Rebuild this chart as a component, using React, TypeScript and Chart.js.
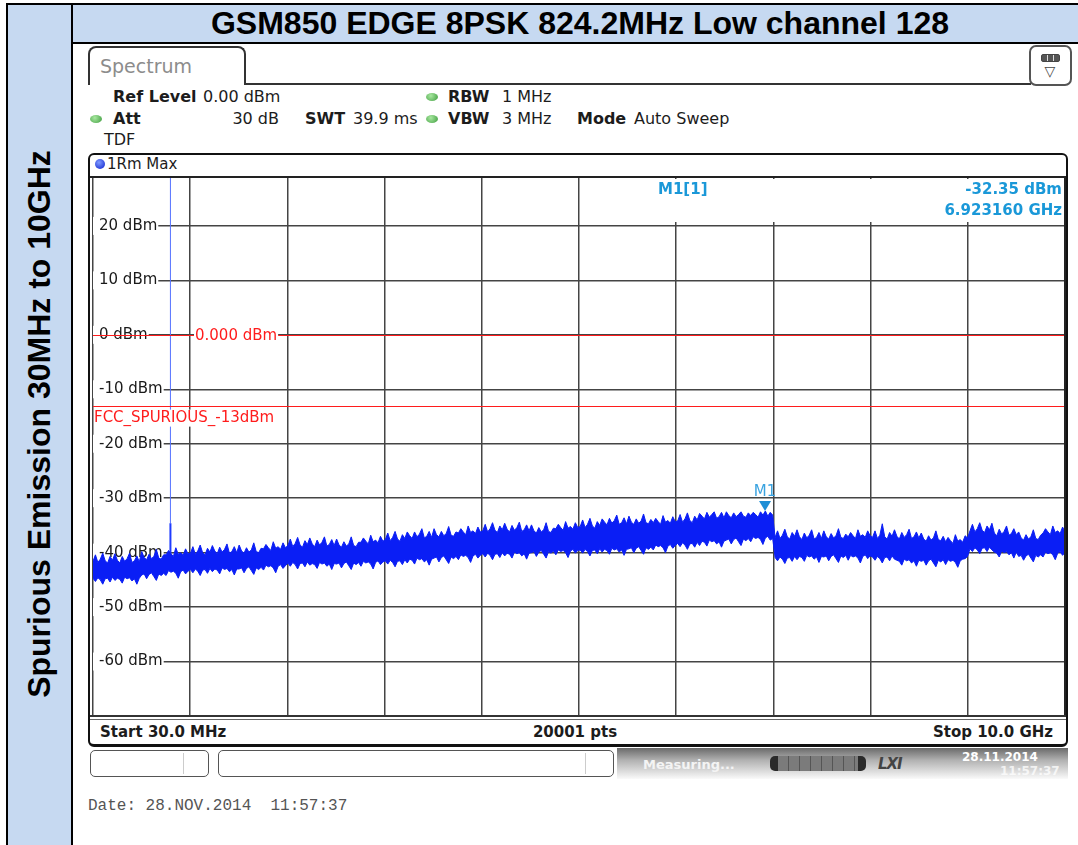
import React, { useEffect, useRef } from 'react';
import { Chart, registerables } from 'chart.js';

Chart.register(...registerables);

// ---------------- data ----------------
const startFreqMHz = 30;
const stopFreqMHz = 10000;
const levelTop = 28.8;
const levelBottom = -70;
const yTickLevels = [20, 10, 0, -10, -20, -30, -40, -50, -60];
const xGridFreqs = [30, 1027, 2024, 3021, 4018, 5015, 6012, 7009, 8006, 9003, 10000];

// max-hold trace, upper edge of the noise band (dBm), 400 sweep bins
const traceUpper = [
  -41.6, -40.4, -41.8, -41.2, -40.1, -41.5, -41.9, -40.7, -41.4, -40.2,
  -41.4, -41.9, -40.7, -41.6, -41.1, -40.1, -41.8, -41.5, -40.6, -41.7,
  -39.8, -40.9, -41.3, -40.3, -41.1, -40.7, -39.4, -41.0, -41.2, -40.4,
  -40.4, -39.6, -40.2, -40.7, -39.1, -40.3, -40.0, -40.5, -39.3, -40.2,
  -40.1, -38.9, -40.3, -39.7, -38.6, -40.0, -40.4, -39.2, -39.9, -38.7,
  -39.7, -40.2, -39.0, -39.9, -39.4, -38.4, -40.1, -39.8, -38.9, -40.0,
  -38.6, -39.7, -40.1, -39.1, -39.9, -39.5, -38.2, -39.8, -40.0, -39.2,
  -39.3, -38.5, -39.1, -39.6, -38.0, -39.2, -38.9, -39.4, -38.2, -39.1,
  -38.7, -37.5, -38.9, -38.3, -37.2, -38.6, -39.0, -37.8, -38.5, -37.3,
  -38.4, -38.9, -37.7, -38.6, -38.1, -37.1, -38.8, -38.5, -37.6, -38.7,
  -37.5, -38.6, -39.0, -38.0, -38.8, -38.4, -37.1, -38.7, -38.9, -38.1,
  -38.1, -37.3, -37.9, -38.4, -36.8, -38.0, -37.7, -38.2, -37.0, -37.9,
  -37.6, -36.4, -37.8, -37.2, -36.1, -37.5, -37.9, -36.7, -37.4, -36.2,
  -36.9, -37.4, -36.2, -37.1, -36.6, -35.6, -37.3, -37.0, -36.1, -37.2,
  -35.6, -36.7, -37.1, -36.1, -36.9, -36.5, -35.2, -36.8, -37.0, -36.2,
  -36.4, -35.6, -36.2, -36.7, -35.1, -36.3, -36.0, -36.5, -35.3, -36.2,
  -36.0, -34.8, -36.2, -35.6, -34.5, -35.9, -36.3, -35.1, -35.8, -34.6,
  -35.7, -36.2, -35.0, -35.9, -35.4, -34.4, -36.1, -35.8, -34.9, -36.0,
  -34.9, -36.0, -36.4, -35.4, -36.2, -35.8, -34.5, -36.1, -36.3, -35.5,
  -35.6, -34.8, -35.4, -35.9, -34.3, -35.5, -35.2, -35.7, -34.5, -35.4,
  -35.2, -34.0, -35.4, -34.8, -33.7, -35.1, -35.5, -34.3, -35.0, -33.8,
  -34.4, -34.9, -33.7, -34.6, -34.1, -33.1, -34.8, -34.5, -33.6, -34.7,
  -33.3, -34.4, -34.8, -33.8, -34.6, -34.2, -32.9, -34.5, -34.7, -33.9,
  -34.5, -33.7, -34.3, -34.8, -33.2, -34.4, -34.1, -34.6, -33.4, -34.3,
  -34.2, -33.0, -34.4, -33.8, -32.7, -34.1, -34.5, -33.3, -34.0, -32.8,
  -33.3, -33.8, -32.6, -33.5, -33.0, -32.5, -33.7, -33.4, -32.6, -33.6,
  -32.5, -33.2, -33.6, -32.7, -33.4, -33.0, -32.5, -33.3, -33.5, -32.7,
  -33.2, -32.6, -33.0, -33.5, -32.5, -33.1, -32.35, -33.3, -32.6, -33.1,
  -37.2, -36.0, -37.4, -36.8, -35.7, -37.1, -37.5, -36.3, -37.0, -35.8,
  -37.1, -37.6, -36.4, -37.3, -36.8, -35.8, -37.5, -37.2, -36.3, -37.4,
  -36.0, -37.1, -37.5, -36.5, -37.3, -36.9, -35.6, -37.2, -37.4, -36.6,
  -37.1, -36.3, -36.9, -37.4, -35.8, -37.0, -36.7, -37.2, -36.0, -36.9,
  -37.2, -36.0, -37.4, -36.8, -34.7, -37.1, -37.5, -36.3, -37.0, -35.8,
  -37.0, -37.5, -36.3, -37.2, -36.7, -35.7, -37.4, -37.1, -36.2, -37.3,
  -36.4, -37.5, -37.9, -36.9, -37.7, -37.3, -36.0, -37.6, -37.8, -37.0,
  -38.0, -37.2, -37.8, -38.3, -36.7, -37.9, -37.6, -38.1, -36.9, -37.3,
  -36.0, -34.8, -36.2, -35.6, -34.5, -35.9, -36.3, -35.1, -35.8, -34.6,
  -36.4, -36.9, -35.7, -36.6, -36.1, -35.1, -36.8, -36.5, -35.6, -36.7,
  -36.2, -37.3, -37.7, -36.7, -37.5, -37.1, -35.8, -37.4, -37.6, -36.8,
  -36.4, -35.6, -36.2, -36.7, -35.1, -36.3, -36.0, -36.5, -35.3, -36.2,
];

// lower edge of the noise band (dBm), 400 sweep bins
const traceLower = [
  -44.7, -45.3, -44.6, -45.0, -45.8, -44.8, -44.7, -45.4, -44.5, -45.1,
  -44.7, -44.9, -45.6, -44.5, -44.8, -44.6, -45.2, -44.8, -45.8, -44.7,
  -44.1, -43.9, -44.8, -44.0, -43.7, -44.4, -45.1, -43.9, -44.2, -43.8,
  -44.2, -43.3, -43.6, -43.4, -43.8, -44.7, -43.5, -43.2, -43.9, -43.4,
  -43.1, -43.7, -43.0, -43.4, -44.2, -43.2, -43.1, -43.8, -42.9, -43.5,
  -43.0, -43.2, -43.9, -42.8, -43.1, -42.9, -43.5, -43.1, -44.1, -43.0,
  -43.0, -42.8, -43.7, -42.9, -42.6, -43.3, -44.0, -42.8, -43.1, -42.7,
  -43.2, -42.3, -42.6, -42.4, -42.8, -43.7, -42.5, -42.2, -42.9, -42.4,
  -41.9, -42.5, -41.8, -42.2, -43.0, -42.0, -41.9, -42.6, -41.7, -42.3,
  -42.0, -42.2, -42.9, -41.8, -42.1, -41.9, -42.5, -42.1, -43.1, -42.0,
  -42.1, -41.9, -42.8, -42.0, -41.7, -42.4, -43.1, -41.9, -42.2, -41.8,
  -42.5, -41.6, -41.9, -41.7, -42.1, -43.0, -41.8, -41.5, -42.2, -41.7,
  -41.5, -42.1, -41.4, -41.8, -42.6, -41.6, -41.5, -42.2, -41.3, -41.9,
  -41.2, -41.4, -42.1, -41.0, -41.3, -41.1, -41.7, -41.3, -42.3, -41.2,
  -41.0, -40.8, -41.7, -40.9, -40.6, -41.3, -42.0, -40.8, -41.1, -40.7,
  -41.3, -40.4, -40.7, -40.5, -40.9, -41.8, -40.6, -40.3, -41.0, -40.5,
  -40.2, -40.8, -40.1, -40.5, -41.3, -40.3, -40.2, -40.9, -40.0, -40.6,
  -40.1, -40.3, -41.0, -39.9, -40.2, -40.0, -40.6, -40.2, -41.2, -40.1,
  -40.0, -39.8, -40.7, -39.9, -39.6, -40.3, -41.0, -39.8, -40.1, -39.7,
  -40.4, -39.5, -39.8, -39.6, -40.0, -40.9, -39.7, -39.4, -40.1, -39.6,
  -39.5, -40.1, -39.4, -39.8, -40.6, -39.6, -39.5, -40.2, -39.3, -39.9,
  -39.4, -39.6, -40.3, -39.2, -39.5, -39.3, -39.9, -39.5, -40.5, -39.4,
  -39.3, -39.1, -40.0, -39.2, -38.9, -39.6, -40.3, -39.1, -39.4, -39.0,
  -39.5, -38.6, -38.9, -38.7, -39.1, -40.0, -38.8, -38.5, -39.2, -38.7,
  -38.3, -38.9, -38.2, -38.6, -39.4, -38.4, -38.3, -39.0, -38.1, -38.7,
  -37.9, -38.1, -38.8, -37.7, -38.0, -37.8, -38.4, -38.0, -39.0, -37.9,
  -37.7, -37.5, -38.4, -37.6, -37.3, -38.0, -38.7, -37.5, -37.8, -37.4,
  -38.0, -37.1, -37.4, -37.2, -37.6, -38.5, -37.3, -37.0, -37.7, -37.4,
  -40.9, -41.5, -40.8, -41.2, -42.0, -41.0, -40.9, -41.6, -40.7, -41.3,
  -40.7, -40.9, -41.6, -40.5, -40.8, -40.6, -41.2, -40.8, -41.8, -40.7,
  -40.8, -40.6, -41.5, -40.7, -40.4, -41.1, -41.8, -40.6, -40.9, -40.5,
  -41.4, -40.5, -40.8, -40.6, -41.0, -41.9, -40.7, -40.4, -41.1, -40.6,
  -40.8, -41.4, -40.7, -41.1, -41.9, -40.9, -40.8, -41.5, -40.6, -41.2,
  -41.4, -41.6, -42.3, -41.2, -41.5, -41.3, -41.9, -41.5, -42.5, -41.4,
  -41.6, -41.4, -42.3, -41.5, -41.2, -41.9, -42.6, -41.4, -41.7, -41.3,
  -42.2, -41.3, -41.6, -41.4, -41.8, -42.7, -41.5, -41.2, -41.1, -40.7,
  -39.3, -39.8, -39.1, -39.5, -40.2, -39.2, -39.1, -39.8, -39.0, -39.5,
  -39.9, -40.1, -40.8, -39.7, -40.0, -39.8, -40.4, -40.0, -41.0, -39.9,
  -40.7, -40.5, -41.4, -40.6, -40.3, -41.0, -41.7, -40.5, -40.8, -40.4,
  -40.8, -39.9, -40.2, -40.0, -40.4, -41.3, -40.1, -39.8, -40.5, -40.0,
];

const carrierFreqMHz = 824.2;
const carrierLevels = [-41.0, -34.6, 40];
const displayLineLevel = 0;
const limitLineLevel = -13;
const limitLineName = 'FCC_SPURIOUS_-13dBm';
const markerFreqMHz = 6923.16;
const markerLevel = -32.35;

// ---------------- styling ----------------
const TRACE = '#0a1ef5';
const GRID = '#444444';
const RED = '#ff1c1c';
const MARK = '#1a98d8';
const UI_FONT = '"DejaVu Sans", Verdana, sans-serif';
const AREA = { left: 93, top: 178, width: 972, height: 538 };

const sweepFreq = (i: number, n: number) =>
  startFreqMHz + (i * (stopFreqMHz - startFreqMHz)) / (n - 1);

const overlayPlugin = {
  id: 'rsOverlay',
  afterDatasetsDraw(chart: any) {
    const { ctx, chartArea: a, scales } = chart;
    const x = scales.x;
    const y = scales.y;
    ctx.save();
    ctx.strokeStyle = RED;
    ctx.lineWidth = 1.2;
    [displayLineLevel, limitLineLevel].forEach((v) => {
      const py = Math.round(y.getPixelForValue(v)) + 0.5;
      ctx.beginPath();
      ctx.moveTo(a.left, py);
      ctx.lineTo(a.right, py);
      ctx.stroke();
    });
    ctx.font = `15px ${UI_FONT}`;
    ctx.textBaseline = 'middle';
    ctx.textAlign = 'left';
    const dl = `${displayLineLevel.toFixed(3)} dBm`;
    const dlx = a.left + 102;
    const dly = y.getPixelForValue(displayLineLevel);
    const dw = ctx.measureText(dl).width;
    ctx.fillStyle = '#fff';
    ctx.fillRect(dlx - 1, dly - 8, dw + 2, 16);
    ctx.fillStyle = RED;
    ctx.fillText(dl, dlx, dly + 1);
    const fly = y.getPixelForValue(limitLineLevel) + 12;
    const fw = ctx.measureText(limitLineName).width;
    ctx.fillStyle = '#fff';
    ctx.fillRect(a.left + 1, fly - 8, fw + 1, 17);
    ctx.fillStyle = RED;
    ctx.fillText(limitLineName, a.left + 1, fly);
    const mx = x.getPixelForValue(markerFreqMHz);
    const my = y.getPixelForValue(markerLevel);
    ctx.fillStyle = '#1f8fd6';
    ctx.beginPath();
    ctx.moveTo(mx - 6, my - 10);
    ctx.lineTo(mx + 6, my - 10);
    ctx.lineTo(mx, my);
    ctx.closePath();
    ctx.fill();
    ctx.fillStyle = '#3aa3e0';
    ctx.textAlign = 'center';
    ctx.fillText('M1', mx, my - 19);
    const bx = a.left + 507;
    ctx.fillStyle = '#fff';
    ctx.fillRect(bx, a.top + 1, a.right - bx - 1, 43);
    ctx.fillStyle = MARK;
    ctx.font = `bold 15px ${UI_FONT}`;
    ctx.textAlign = 'left';
    ctx.fillText('M1[1]', a.left + 565, a.top + 12);
    ctx.textAlign = 'right';
    ctx.fillText(`${markerLevel.toFixed(2)} dBm`, a.right - 3, a.top + 12);
    ctx.fillText(`${(markerFreqMHz / 1000).toFixed(6)} GHz`, a.right - 3, a.top + 33);
    ctx.restore();
  },
};

function SpectrumChart() {
  const ref = useRef<HTMLCanvasElement>(null);
  useEffect(() => {
    const canvas = ref.current as HTMLCanvasElement;
    const n = traceUpper.length;
    const up = traceUpper.map((v, i) => ({ x: sweepFreq(i, n), y: v }));
    const lo = traceLower.map((v, i) => ({ x: sweepFreq(i, n), y: v }));
    const chart = new Chart(canvas, {
      type: 'line',
      data: {
        datasets: [
          { data: up, borderColor: TRACE, backgroundColor: TRACE, borderWidth: 1, pointRadius: 0, fill: '+1' },
          { data: lo, borderColor: TRACE, borderWidth: 1, pointRadius: 0, fill: false },
          {
            data: [{ x: carrierFreqMHz, y: carrierLevels[0] }, { x: carrierFreqMHz, y: carrierLevels[1] }],
            borderColor: '#1f3cff', borderWidth: 2, pointRadius: 0, fill: false,
          },
          {
            data: [{ x: carrierFreqMHz, y: carrierLevels[1] }, { x: carrierFreqMHz, y: carrierLevels[2] }],
            borderColor: '#5572ff', borderWidth: 1, pointRadius: 0, fill: false,
          },
        ],
      },
      options: {
        responsive: false,
        animation: false,
        events: [],
        layout: { padding: 0, autoPadding: false },
        plugins: { legend: { display: false }, tooltip: { enabled: false } },
        scales: {
          x: {
            type: 'linear',
            min: startFreqMHz,
            max: stopFreqMHz,
            afterBuildTicks: (s: any) => { s.ticks = xGridFreqs.map((v) => ({ value: v })); },
            afterFit: (s: any) => { s.paddingLeft = 0; s.paddingRight = 0; s.height = 0; },
            ticks: { display: false },
            grid: { color: GRID, lineWidth: 1.5, drawTicks: false },
            border: { display: false },
          },
          y: {
            type: 'linear',
            min: levelBottom,
            max: levelTop,
            afterBuildTicks: (s: any) => { s.ticks = yTickLevels.map((v) => ({ value: v })); },
            afterFit: (s: any) => { s.paddingTop = 0; s.paddingBottom = 0; },
            ticks: {
              mirror: true,
              padding: 6,
              autoSkip: false,
              color: '#1a1a1a',
              font: { family: 'DejaVu Sans', size: 15 },
              callback: (v: any) => `${v} dBm`,
              showLabelBackdrop: true,
              backdropColor: '#ffffff',
              backdropPadding: { top: 0, bottom: 0, left: 6, right: 1 },
            },
            grid: { color: GRID, lineWidth: 1.5, drawTicks: false },
            border: { display: false },
          },
        },
      } as any,
      plugins: [overlayPlugin],
    });
    // fit the canvas so that the plotting area lands on the instrument's diagram
    const a = chart.chartArea;
    const W = canvas.width + (AREA.width - (a.right - a.left));
    const H = canvas.height + (AREA.height - (a.bottom - a.top));
    if (W !== canvas.width || H !== canvas.height) chart.resize(W, H);
    const b = chart.chartArea;
    canvas.style.left = `${AREA.left - b.left}px`;
    canvas.style.top = `${AREA.top - b.top}px`;
    return () => chart.destroy();
  }, []);
  return (
    <canvas ref={ref} width={984} height={538} style={{ position: 'absolute', left: 81, top: 178 }} />
  );
}

type TP = {
  x: number; y: number; children: React.ReactNode; size?: number; bold?: boolean;
  color?: string; align?: 'left' | 'center' | 'right'; family?: string; style?: React.CSSProperties;
};
const T = ({ x, y, children, size = 16, bold = false, color = '#1c1c1c', align = 'left', family = UI_FONT, style = {} }: TP) => {
  const tx = align === 'left' ? '0' : align === 'center' ? '-50%' : '-100%';
  return (
    <div
      style={{
        position: 'absolute', left: x, top: y, transform: `translate(${tx}, -50%)`, fontSize: size,
        fontWeight: bold ? 700 : 400, color, fontFamily: family, whiteSpace: 'nowrap', lineHeight: 1, ...style,
      }}
    >
      {children}
    </div>
  );
};

const Box = ({ l, t, w, h, s }: { l: number; t: number; w: number; h: number; s?: React.CSSProperties }) => (
  <div style={{ position: 'absolute', left: l, top: t, width: w, height: h, boxSizing: 'border-box', ...s }} />
);

const GreenDot = ({ x, y }: { x: number; y: number }) => (
  <Box l={x - 6} t={y - 4} w={12} h={8} s={{ borderRadius: '50%', background: 'radial-gradient(circle at 40% 35%, #a8e8a0, #3d9b3d)' }} />
);

export default function App() {
  const BLUE_BG = '#c6d9f1';
  return (
    <div style={{ position: 'absolute', left: 0, top: 0, width: 1078, height: 845, background: '#fff', overflow: 'hidden', fontFamily: UI_FONT }}>
      {/* outer table */}
      <Box l={6} t={3} w={67} h={842} s={{ background: BLUE_BG, borderLeft: '2px solid #000', borderRight: '2px solid #000', borderTop: '2px solid #000' }} />
      <Box l={71} t={3} w={1007} h={41} s={{ background: BLUE_BG, borderTop: '2px solid #000', borderBottom: '2px solid #000', borderLeft: '2px solid #000' }} />
      <div
        style={{
          position: 'absolute', left: 580, top: 23, transform: 'translate(-50%, -50%)', fontFamily: '"Liberation Sans", Arial, sans-serif',
          fontWeight: 700, fontSize: 32, whiteSpace: 'nowrap', lineHeight: 1, color: '#000',
        }}
      >
        GSM850 EDGE 8PSK 824.2MHz Low channel 128
      </div>
      <div
        style={{
          position: 'absolute', left: 39, top: 424, transform: 'translate(-50%, -50%) rotate(-90deg)', fontFamily: '"Liberation Sans", Arial, sans-serif',
          fontWeight: 700, fontSize: 32, whiteSpace: 'nowrap', lineHeight: 1, color: '#000',
        }}
      >
        Spurious Emission 30MHz to 10GHz
      </div>

      {/* spectrum tab & header */}
      <Box l={88} t={46} w={158} h={39} s={{ border: '2px solid #333', borderBottom: 'none', borderRadius: '8px 8px 0 0' }} />
      <T x={100} y={66} size={19} color="#8c8c8c">Spectrum</T>
      <Box l={245} t={83} w={786} h={2} s={{ background: '#333' }} />
      <Box l={1029} t={45} w={43} h={41} s={{ border: '2px solid #555', borderRadius: 7, background: '#fff' }} />
      <Box l={1041} t={54} w={19} h={8} s={{ background: 'repeating-linear-gradient(to right, #555 0 5px, #ddd 5px 6px)', border: '1px solid #444', borderRadius: 2 }} />
      <T x={1050} y={71} size={14} color="#444" align="center">▽</T>

      <T x={113} y={97} bold>Ref Level</T>
      <T x={203} y={97}>0.00 dBm</T>
      <GreenDot x={432} y={97} />
      <T x={448} y={97} bold>RBW</T>
      <T x={502} y={97}>1 MHz</T>

      <GreenDot x={96} y={119} />
      <T x={113} y={119} bold>Att</T>
      <T x={279} y={119} align="right">30 dB</T>
      <T x={305} y={119} bold>SWT</T>
      <T x={353} y={119}>39.9 ms</T>
      <GreenDot x={432} y={119} />
      <T x={448} y={119} bold>VBW</T>
      <T x={502} y={119}>3 MHz</T>
      <T x={577} y={119} bold>Mode</T>
      <T x={634} y={119}>Auto Sweep</T>
      <T x={104} y={140}>TDF</T>

      {/* plot box */}
      <Box l={88} t={153} w={980} h={594} s={{ border: '2px solid #111', borderBottom: '3px solid #111', borderRadius: 6 }} />
      <Box l={95} t={159} w={10} h={10} s={{ borderRadius: '50%', background: 'radial-gradient(circle at 40% 35%, #7f9bff, #0a1ccc)' }} />
      <T x={107} y={164} size={15}>1Rm Max</T>

      <SpectrumChart />

      <Box l={90} t={176} w={976} h={2} s={{ background: '#222' }} />
      <Box l={1064} t={177} w={2} h={540} s={{ background: '#222' }} />
      <Box l={90} t={715} w={976} h={2} s={{ background: '#333' }} />
      <Box l={90} t={719} w={976} h={1} s={{ background: '#666' }} />
      <T x={100} y={732} size={15} bold>Start 30.0 MHz</T>
      <T x={575} y={732} size={15} bold align="center">20001 pts</T>
      <T x={1053} y={732} size={15} bold align="right">Stop 10.0 GHz</T>

      {/* status bar */}
      <Box l={617} t={748} w={451} h={31} s={{ background: 'linear-gradient(to bottom, #6a6a6a 0%, #b2b2b2 40%, #fafafa 100%)' }} />
      <Box l={90} t={750} w={119} h={27} s={{ border: '1.5px solid #555', borderRadius: 5, background: '#fff' }} />
      <Box l={183} t={753} w={1} h={21} s={{ background: '#ccc' }} />
      <Box l={218} t={750} w={396} h={27} s={{ border: '1.5px solid #555', borderRadius: 5, background: '#fff' }} />
      <Box l={585} t={753} w={1} h={21} s={{ background: '#ccc' }} />
      <T x={643} y={764} size={13} bold color="#f4f4f4">Measuring...</T>
      <Box l={770} t={756} w={96} h={15} s={{ borderRadius: 5, background: 'repeating-linear-gradient(to right, #7b7b7b 0 10px, #555 10px 11px)', borderLeft: '8px solid #2a2a2a', borderRight: '8px solid #2a2a2a' }} />
      <T x={878} y={764} size={15} bold color="#444" style={{ fontStyle: 'italic', letterSpacing: -1 }}>LXI</T>
      <T x={962} y={757} size={12} bold color="#ffffff">28.11.2014</T>
      <T x={1000} y={771} size={12} bold color="rgba(255,255,255,0.75)">11:57:37</T>

      <T x={88} y={806} size={16} color="#555" family='"Liberation Mono", "DejaVu Sans Mono", monospace'>
        Date: 28.NOV.2014&nbsp;&nbsp;11:57:37
      </T>
    </div>
  );
}
